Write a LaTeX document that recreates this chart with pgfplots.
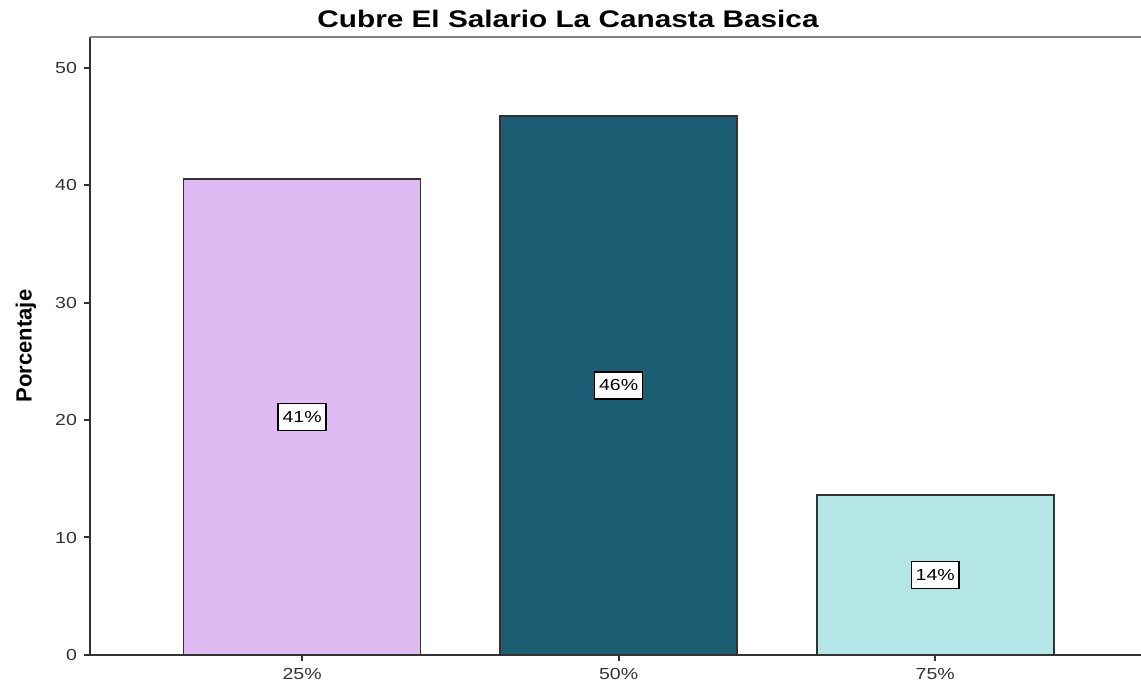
\documentclass[border=0pt]{standalone}
\usepackage{fontspec}
\setmainfont{Liberation Sans}
\newfontfamily\spss[FakeStretch=1.22]{Liberation Sans}
\newfontfamily\spsstitle[FakeStretch=1.24]{Liberation Sans}
\usepackage{pgfplots}
\pgfplotsset{compat=1.18}

\definecolor{barA}{HTML}{E0BAF3}
\definecolor{barB}{HTML}{1D5D73}
\definecolor{barC}{HTML}{B4E6E7}
\definecolor{edge}{HTML}{333333}

\begin{document}
\begin{tikzpicture}
\begin{axis}[
  scale only axis,
  width=525.5pt, height=309pt,
  xmin=-0.67, xmax=2.65,
  ymin=0, ymax=52.6,
  axis lines*=left,
  axis line style={-, edge, line width=1pt},
  xtick={0,1,2}, xticklabels={25\%,50\%,75\%},
  ytick={0,10,20,30,40,50},
  tick align=outside,
  major tick length=3pt,
  every tick/.style={edge, line width=1pt},
  ticklabel style={font=\spss\fontsize{8}{9}\selectfont, text=black!80},
  /pgf/number format/assume math mode=true,
  ybar, bar width=118.5pt, bar shift=0pt,
  clip=false,
]
\addplot[fill=barA, draw=edge, line width=0.85pt] coordinates {(0,40.5)};
\addplot[fill=barB, draw=edge, line width=0.85pt] coordinates {(1,45.9)};
\addplot[fill=barC, draw=edge, line width=0.85pt] coordinates {(2,13.6)};
\addplot[only marks, mark=none, point meta=explicit symbolic,
  nodes near coords,
  every node near coord/.append style={anchor=center, fill=white, draw=black, line width=0.7pt,
    font=\spss\fontsize{8}{9}\selectfont, inner xsep=2.2pt, inner ysep=0pt, minimum height=13.5pt}]
  coordinates {(0,20.25)[41\%] (1,22.95)[46\%] (2,6.8)[14\%]};
\draw[black!50, line width=1.1pt] (rel axis cs:0,1) -- (rel axis cs:1,1);
\coordinate (bl) at (rel axis cs:0,0);
\coordinate (tr) at (rel axis cs:1,1);
\coordinate (ml) at (rel axis cs:0,0.5);
\end{axis}
\node[font=\spsstitle\fontsize{12}{14}\selectfont\bfseries, anchor=base] at ([xshift=239pt,yshift=4.5pt]bl|-tr) {Cubre El Salario La Canasta Basica};
\node[font=\fontsize{11}{13}\selectfont\bfseries, rotate=90, anchor=center] at ([xshift=-32pt]ml) {Porcentaje};
\pgfresetboundingbox
\path[use as bounding box] ([xshift=-45pt,yshift=-14pt]bl) rectangle ([yshift=18.5pt]tr);
\end{tikzpicture}
\end{document}
